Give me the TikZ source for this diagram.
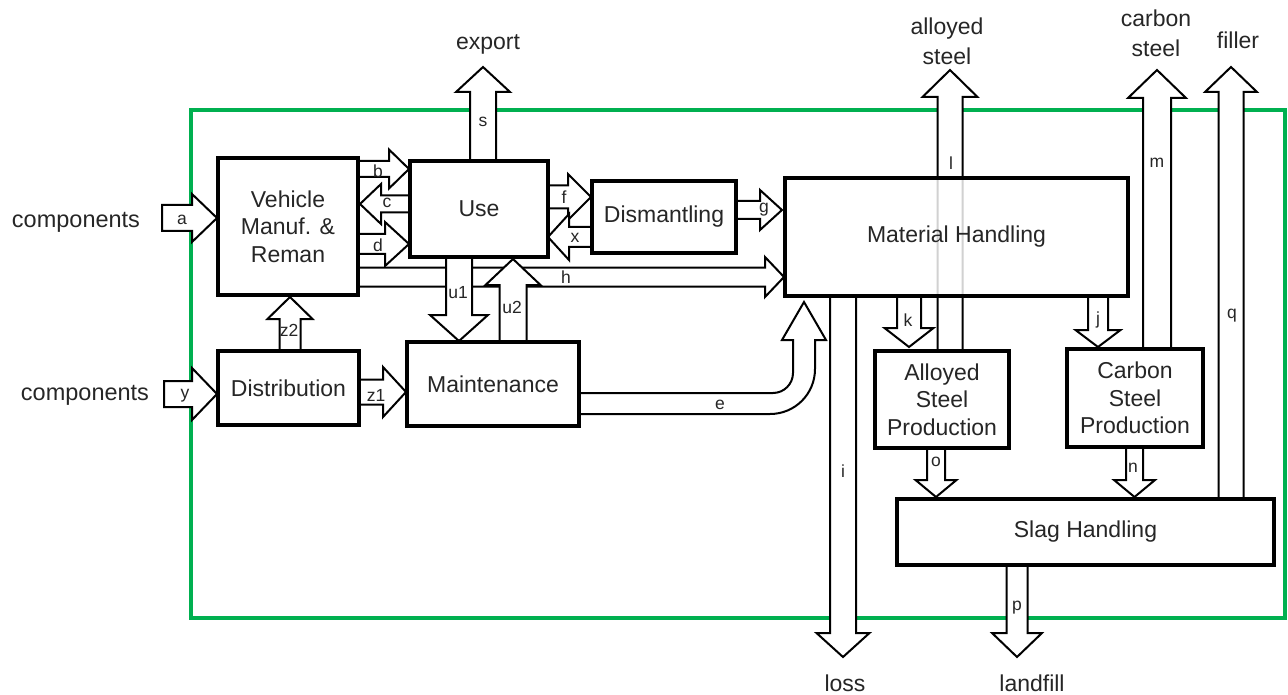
\documentclass[tikz,border=0pt]{standalone}
\usepackage{fontspec}
\setmainfont{Liberation Sans}
\newcommand\bigtxt{\fontsize{23}{27.5}\selectfont}
\newcommand\smalltxt{\fontsize{17.5}{19}\selectfont}
% horizontal block arrow: x0, xtip, yc, shaft half, head half, head base x
\newcommand\blockH[6]{\draw[blk] (#1,#3-#4) -- (#6,#3-#4) -- (#6,#3-#5) -- (#2,#3) -- (#6,#3+#5) -- (#6,#3+#4) -- (#1,#3+#4) -- cycle;}
% vertical block arrow: y0, ytip, xc, shaft half, head half, head base y
\newcommand\blockV[6]{\draw[blk] (#3-#4,#1) -- (#3-#4,#6) -- (#3-#5,#6) -- (#3,#2) -- (#3+#5,#6) -- (#3+#4,#6) -- (#3+#4,#1) -- cycle;}
\definecolor{sysgreen}{RGB}{0,176,80}
\begin{document}
\begin{tikzpicture}[x=1pt,y=-1pt,
  blk/.style={draw=black, line width=2pt, fill=white, line join=miter},
  box/.style={draw=black, line width=4pt, fill=white, inner sep=0pt, align=center, font=\bigtxt, text=black!85},
  lbl/.style={inner sep=0pt, font=\smalltxt, text=black!85},
  ext/.style={inner sep=0pt, align=center, font=\bigtxt, text=black!85}]
\useasboundingbox (0,0) rectangle (1288,695);
% system boundary
\draw[sysgreen, line width=4pt] (191,110) rectangle (1285,618);
% block arrows
\blockH{162}{217}{218}{13}{24}{192}
\blockH{164}{217}{394}{13}{26}{192}
\blockH{358}{409}{169}{8}{19.5}{389}
\blockH{410}{360}{204}{8.5}{20}{381}
\blockH{358}{409}{244}{10}{22}{385}
\blockH{358}{784}{277}{9.5}{20}{765}
\blockH{548}{591}{197}{11.5}{23}{568}
\blockH{592}{548}{237}{10}{23}{569}
\blockH{736}{782}{210}{9}{20}{760}
\blockH{359}{406}{392}{12.5}{25}{383}
\blockV{161}{67}{483}{13}{27}{92}
\blockV{257}{341}{459}{13}{29}{315}
\blockV{342}{259}{513}{13.5}{27.5}{285}
\blockV{351}{297}{290}{10.5}{22.5}{319}
\blockV{296}{657}{843}{13}{26.5}{633}
\blockV{565}{657}{1017}{10.5}{25}{633}
\blockV{296}{347}{909}{12}{24.5}{328}
\blockV{351}{70}{950}{12.5}{27.5}{97}
\blockV{296}{347}{1098}{10}{22.5}{330}
\blockV{349}{70}{1157}{14}{29}{98}
\blockV{499}{67}{1231}{12.5}{26}{92}
\blockV{448}{497}{936}{9}{20.5}{480}
\blockV{447}{497}{1134.5}{8.5}{20.5}{480}
% bent arrow e
\draw[blk] (579,393) -- (773,393) .. controls (784,393) and (793,384) .. (793,373)
  -- (793,340) -- (782,340) -- (804,302) -- (826,340) -- (815,340) -- (815,369)
  .. controls (815,394) and (795,414) .. (770,414) -- (579,414) -- cycle;
% boxes
\node[box, minimum width=140pt, minimum height=137pt] (veh) at (288,226.5) {Vehicle\\Manuf. \&\\Reman};
\node[box, minimum width=138pt, minimum height=96pt] (use) at (479,209) {Use};
\node[box, minimum width=144pt, minimum height=72pt] (dis) at (664,217) {Dismantling};
\node[box, fill opacity=0.82, text opacity=1, minimum width=343pt, minimum height=118pt] (mat) at (956.5,237) {Material Handling};
\node[box, minimum width=141pt, minimum height=74pt] (dist) at (288.5,388) {Distribution};
\node[box, minimum width=172pt, minimum height=84pt] (maint) at (493,384) {Maintenance};
\node[box, minimum width=134pt, minimum height=97pt] (alloy) at (942,399.5) {Alloyed\\Steel\\Production};
\node[box, minimum width=136pt, minimum height=98pt] (carb) at (1135,398) {Carbon\\Steel\\Production};
\node[box, minimum width=377pt, minimum height=66pt] (slag) at (1085.5,532) {Slag Handling};
% outer texts
\node[ext, font=\fontsize{23.5}{28}\selectfont] (comp1) at (76,222) {components};
\node[ext, font=\fontsize{23.5}{28}\selectfont] (comp2) at (85,395) {components};
\node[ext] (export) at (488,44) {export};
\node[ext, font=\fontsize{23}{30}\selectfont] (alst) at (947,41) {alloyed\\steel};
\node[ext, font=\fontsize{23}{30}\selectfont] (cast) at (1156,33) {carbon\\steel};
\node[ext] (filler) at (1238,40) {filler};
\node[ext] (loss) at (845,683) {loss};
\node[ext] (landfill) at (1032,683) {landfill};
% flow labels
\node[lbl] (la) at (182,220) {a};
\node[lbl] (ly) at (185,396) {y};
\node[lbl] (lb) at (378,171) {b};
\node[lbl] (lc) at (387,203) {c};
\node[lbl] (ld) at (378,245) {d};
\node[lbl] (lh) at (566,277) {h};
\node[lbl] (lf) at (564,197) {f};
\node[lbl] (lx) at (575,238) {x};
\node[lbl] (lg) at (764,210) {g};
\node[lbl] (lu1) at (458,293) {u1};
\node[lbl] (lu2) at (512,307) {u2};
\node[lbl] (lz2) at (289,330) {z2};
\node[lbl] (lz1) at (376,395) {z1};
\node[lbl] (le) at (720,405) {e};
\node[lbl] (ls) at (483,122) {s};
\node[lbl] (li) at (843,471) {i};
\node[lbl] (lk) at (908,320) {k};
\node[lbl] (ll) at (951,163) {l};
\node[lbl] (lm) at (1157,163) {m};
\node[lbl] (lj) at (1098,320) {j};
\node[lbl] (lq) at (1232,316) {q};
\node[lbl] (lo) at (936,462) {o};
\node[lbl] (ln) at (1133,468) {n};
\node[lbl] (lp) at (1017,608) {p};
\end{tikzpicture}
\end{document}
